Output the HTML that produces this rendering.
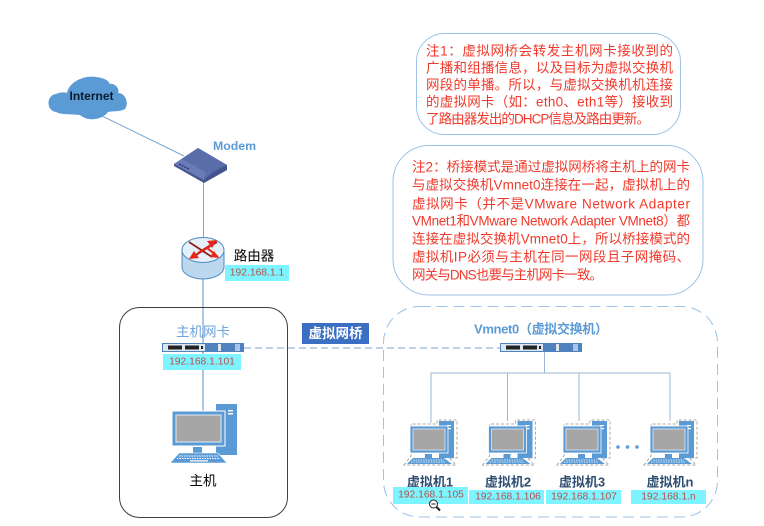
<!DOCTYPE html>
<html><head><meta charset="utf-8"><style>
html,body{margin:0;padding:0;background:#fff}
svg{display:block;filter:blur(.35px)}
text{font-family:"Liberation Sans","Noto Sans CJK SC",sans-serif;dominant-baseline:central}
.r{fill:#f0392b;font-size:13.5px}
.ip{fill:#b5504a;font-size:10.3px;text-anchor:middle}
.vm{fill:#2f4f72;font-size:13px;font-weight:bold;text-anchor:middle}
</style></head><body>
<svg width="764" height="526" viewBox="0 0 764 526" xmlns="http://www.w3.org/2000/svg">
<defs>
<g id="pc">
<rect x="44" y="0" width="21" height="51" fill="#5b9bd5"/>
<rect x="56" y="6" width="5" height="1.500" fill="#fff"/><rect x="56" y="9" width="5" height="1.500" fill="#fff"/>
<rect x="0" y="7" width="53" height="35" fill="#5b9bd5" stroke="#fff" stroke-width="1"/>
<rect x="4" y="11" width="45" height="27" fill="#a6a6a6" stroke="#dce9f5" stroke-width="1"/>
<rect x="21" y="43" width="9" height="6" fill="#5b9bd5"/>
<polygon points="7,49 46,49 55,59 -2,59" fill="#5b9bd5" stroke="#fff" stroke-width=".6"/>
<path d="M7,52H46M5,54.500H48" stroke="#fff" stroke-width="1" stroke-dasharray="1.500 1"/>
<rect x="18" y="56" width="18" height="1.600" fill="#dce9f5"/>
</g>
<g id="vm">
<path d="M1,47 L8,38 V6 H34 V2 H54 V40 H46 L53,47 Z" fill="none" stroke="#a8a8a8" stroke-width="1" stroke-dasharray="3 2"/>
<rect x="36" y="3" width="15" height="37" fill="#5b9bd5"/>
<rect x="44" y="7" width="4" height="1.200" fill="#fff"/><rect x="44" y="10" width="4" height="1.200" fill="#fff"/>
<rect x="7" y="8" width="38" height="27" fill="#5b9bd5" stroke="#fff" stroke-width=".8"/>
<rect x="10" y="11" width="32" height="21" fill="#a6a6a6" stroke="#dce9f5" stroke-width=".8"/>
<rect x="22" y="36" width="7" height="4" fill="#5b9bd5"/>
<polygon points="10,40 41,40 49,46 4,46" fill="#5b9bd5"/>
<path d="M10,42H41M8,44H43" stroke="#fff" stroke-width=".8" stroke-dasharray="1.500 1"/>
</g>
<g id="sw">
<rect x="0" y="0" width="82" height="9" fill="#4f81bd"/>
<rect x="1" y="1" width="42" height="7" fill="#dce6f1"/>
<rect x="6" y="2.500" width="14" height="4" fill="#222"/><rect x="23" y="2.500" width="14" height="4" fill="#222"/><rect x="39" y="3" width="2" height="3" fill="#222"/>
<rect x="56" y="1" width="3" height="7" fill="#dce6f1"/>
<rect x="73" y="1" width="5" height="7" fill="#a9c4e4"/>
</g>
</defs>

<!-- connectors -->
<g fill="none">
<line x1="102" y1="116" x2="184" y2="156" stroke="#7ba6d3" stroke-width="1"/>
<line x1="203.500" y1="182" x2="203.500" y2="238" stroke="#7ba6d3" stroke-width="1"/>
<line x1="203" y1="278" x2="203" y2="412" stroke="#5b8fc4" stroke-width="1"/>
<line x1="244" y1="348" x2="500" y2="348" stroke="#7ba6d3" stroke-width="1" stroke-dasharray="7 4"/>
<path d="M544.500,352V373M431,423V373H670V421M507.500,373V421M579,373V421" stroke="#9db8d4" stroke-width="1"/>
</g>

<!-- cloud -->
<path d="M56,112 C46,111 46,95 56,94 C60,92 64,92 67,93 C69,82 84,75 96,77 C104,78 108,80 110,84 C116,83 120,90 118,93 C126,93 129,104 125,109 C120,112 112,111 108,112 C102,120 88,122 80,115 C72,114 62,115 56,112 Z" fill="#5b9bd5"/>
<text x="91.500" y="96" fill="#0b1a2b" text-anchor="middle" font-weight="bold" style="font-size:12px">Internet</text>

<!-- modem -->
<polygon points="174,164 198,148 227,165 227,170 204,183 174,166" fill="#44548f"/>
<polygon points="174,164 198,148 227,165 213,172 204,180" fill="#5b6cab"/>
<polygon points="174,164 182,159 206,172 204,180" fill="#6a7bb8"/>
<path d="M179,164L189,169" stroke="#2d3a6e" stroke-width="1.500" stroke-dasharray="2 1"/>
<text x="213" y="146" font-weight="bold" fill="#5b9bd5" style="font-size:12.300px">Modem</text>

<!-- router -->
<path d="M182,250 V267 A21,12 0 0 0 224,267 V250 Z" fill="#bcd8ef" stroke="#4f8cc4" stroke-width="1"/>
<ellipse cx="203" cy="250" rx="21" ry="12.500" fill="#e6f0f9" stroke="#4f8cc4" stroke-width="1"/>
<path d="M189,242L212,257M217,242L191,258" stroke="#8a1f14" stroke-width="1.800" fill="none"/>
<polygon points="217,240 207,241 212,248" fill="#e8261a"/>
<polygon points="189,259 199,258 194,251" fill="#e8261a"/>
<path d="M198,253L214,243M206,247L218,257" stroke="#e8261a" stroke-width="2" fill="none"/>
<polygon points="219,258 210,257 214,251" fill="#e8261a"/>
<text x="254" y="256" fill="#000" text-anchor="middle" style="font-size:13.500px">路由器</text>
<rect x="225" y="265" width="64" height="16" fill="#7df4ff"/>
<text x="257" y="273" class="ip">192.168.1.1</text>

<!-- note 1 -->
<rect x="416.500" y="33.500" width="264" height="101" rx="28" fill="#fff" stroke="#9cc2e5" stroke-width="1"/>
<g>
<text class="r" x="426" y="51" textLength="247" lengthAdjust="spacing">注1&#xFF1A;虚拟网桥会转发主机网卡接收到的</text>
<text class="r" x="426" y="68" textLength="247" lengthAdjust="spacing">广播和组播信息&#xFF0C;以及目标为虚拟交换机</text>
<text class="r" x="426" y="85" textLength="247" lengthAdjust="spacing">网段的单播。所以&#xFF0C;与虚拟交换机机连接</text>
<text class="r" x="426" y="102" textLength="247" lengthAdjust="spacing">的虚拟网卡&#xFF08;如&#xFF1A;eth0、eth1等&#xFF09;接收到</text>
<text class="r" x="426" y="119" textLength="224" lengthAdjust="spacing">了路由器发出的DHCP信息及路由更新。</text>
</g>

<!-- note 2 -->
<rect x="393" y="145.500" width="310" height="149.500" rx="36" fill="#fff" stroke="#9cc2e5" stroke-width="1"/>
<g>
<text class="r" x="412" y="167" textLength="278" lengthAdjust="spacing">注2&#xFF1A;桥接模式是通过虚拟网桥将主机上的网卡</text>
<text class="r" x="412" y="185" textLength="278" lengthAdjust="spacing">与虚拟交换机Vmnet0连接在一起&#xFF0C;虚拟机上的</text>
<text class="r" x="412" y="204" textLength="278" lengthAdjust="spacing">虚拟网卡&#xFF08;并不是VMware Network Adapter</text>
<text class="r" x="412" y="221" textLength="278" lengthAdjust="spacing">VMnet1和VMware Network Adapter VMnet8&#xFF09;都</text>
<text class="r" x="412" y="239" textLength="278" lengthAdjust="spacing">连接在虚拟交换机Vmnet0上&#xFF0C;所以桥接模式的</text>
<text class="r" x="412" y="257" textLength="278" lengthAdjust="spacing">虚拟机IP必须与主机在同一网段且子网掩码、</text>
<text class="r" x="412" y="275" textLength="191" lengthAdjust="spacing">网关与DNS也要与主机网卡一致。</text>
</g>

<!-- host box -->
<rect x="119.500" y="307.500" width="168" height="210" rx="20" fill="none" stroke="#404040" stroke-width="1"/>
<text x="203" y="332" fill="#6fa3d8" text-anchor="middle" style="font-size:13.500px">主机网卡</text>
<use href="#sw" x="162" y="343"/>
<rect x="163" y="354" width="78" height="16" fill="#7df4ff"/>
<text x="202" y="362" class="ip">192.168.1.101</text>
<line x1="203" y1="370" x2="203" y2="412" stroke="#5b8fc4" stroke-width="1"/>
<use href="#pc" x="172" y="404"/>
<text x="203" y="481" fill="#000" text-anchor="middle" style="font-size:13.500px">主机</text>

<!-- bridge -->
<rect x="302" y="323" width="67" height="21" fill="#3a6fc4"/>
<text x="335.500" y="333.500" font-weight="bold" fill="#fff" text-anchor="middle" style="font-size:13.500px">虚拟网桥</text>

<!-- vmnet box -->
<rect x="383.500" y="306.500" width="334" height="210.500" rx="36" fill="none" stroke="#9cc2e5" stroke-width="1" stroke-dasharray="11 6"/>
<text x="474" y="329" font-weight="bold" fill="#5b9bd5" textLength="134" lengthAdjust="spacing" style="font-size:13px">Vmnet0&#xFF08;虚拟交换机&#xFF09;</text>
<use href="#sw" x="500" y="343"/>

<!-- VMs -->
<use href="#vm" x="403" y="418"/>
<use href="#vm" x="481.500" y="418"/>
<use href="#vm" x="556" y="418"/>
<use href="#vm" x="643" y="418"/>
<circle cx="618" cy="447" r="1.800" fill="#5b9bd5"/><circle cx="627.500" cy="447" r="1.800" fill="#5b9bd5"/><circle cx="637" cy="447" r="1.800" fill="#5b9bd5"/>

<text x="430" y="482" class="vm">虚拟机1</text>
<text x="508" y="482" class="vm">虚拟机2</text>
<text x="582" y="482" class="vm">虚拟机3</text>
<text x="670" y="482" class="vm">虚拟机n</text>

<rect x="393" y="487" width="75" height="17" fill="#7df4ff"/>
<rect x="469" y="490" width="75" height="14" fill="#7df4ff"/>
<rect x="546" y="490" width="75" height="14" fill="#7df4ff"/>
<rect x="631" y="490" width="75" height="14" fill="#7df4ff"/>
<text x="431" y="495" class="ip">192.168.1.105</text>
<text x="508" y="497" class="ip">192.168.1.106</text>
<text x="584" y="497" class="ip">192.168.1.107</text>
<text x="668.500" y="497" class="ip">192.168.1.n</text>

<!-- magnifier cursor -->
<circle cx="433.500" cy="504" r="4" fill="#fff" stroke="#222" stroke-width="1"/>
<path d="M431.500,504H435.500" stroke="#222" stroke-width="1"/>
<path d="M436.500,507L440,510.500" stroke="#222" stroke-width="2"/>
</svg>
</body></html>
